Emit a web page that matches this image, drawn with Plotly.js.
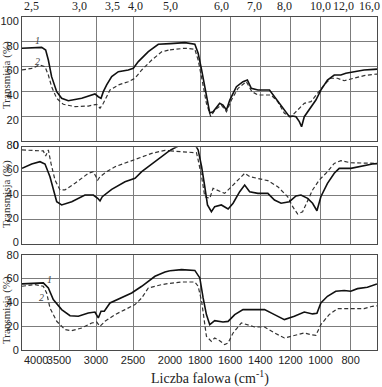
<!DOCTYPE html>
<html><head><meta charset="utf-8">
<script src="https://cdn.plot.ly/plotly-3.0.1.min.js"></script>
<style>html,body{margin:0;padding:0;background:#fff}#chart{width:382px;height:387px}</style>
</head><body><div id="chart"></div>
<script>
// ---- data (wavenumber cm-1, transmission %) ----
const p1SolidWn = [4000,3850,3734,3680,3644,3600,3531,3464,3374,3193,3014,2969,2932,2901,2856,2788,2698,2564,2496,2428,2293,2158,2068,2000,1901,1835,1813,1790,1758,1736,1714,1670,1648,1625,1603,1559,1515,1486,1460,1416,1339,1306,1251,1207,1185,1163,1141,1126,1108,1075,1031,998,954,909,865,832,777,711,645,625];
const p1SolidT  = [74.8,75.3,75.5,73.4,65.3,51.9,39.8,34.4,32.5,34.4,37.9,35.7,34.4,39.8,45.2,51.9,55.9,57.3,58.6,64,72,78,78.2,78.5,79.3,78,70.7,57.3,35.7,22.6,23.6,30.4,29,25,33,43.8,47.8,49.2,42.5,41.1,41.1,35.7,26.4,19.6,20.2,19.6,15.6,11.5,19.6,25,33,41.1,49.2,53.2,53.2,54.6,55.9,57.3,57.8,58];
const p1DashWn  = [4000,3869,3757,3689,3644,3600,3531,3442,3284,3104,2991,2946,2901,2811,2698,2564,2473,2382,2247,2112,2000,1901,1835,1813,1787,1758,1729,1703,1659,1625,1592,1548,1493,1456,1416,1329,1284,1240,1196,1152,1108,1064,1020,976,932,888,843,777,711,645,625];
const p1DashT   = [57.3,58.6,61.3,59.9,53.2,43.8,34.4,29.6,27.7,28.2,29.6,26.4,30.4,41.1,45.2,47.8,50.6,57.3,65.3,72,73.5,74.8,74,65.3,49.2,30.4,19.6,25,29,23.6,33,42.5,47.8,39.8,37.1,37.1,31.7,22.3,19.6,25,30.4,31.7,38.5,45.2,50.6,50.6,48.6,50.6,52.7,53.8,54];

const p2SolidWn = [4000,3869,3757,3689,3622,3577,3531,3464,3328,3149,3036,2977,2946,2915,2788,2608,2473,2382,2203,2068,2000,1945,1879,1835,1813,1790,1769,1751,1725,1703,1659,1614,1581,1537,1504,1471,1416,1350,1306,1262,1207,1163,1130,1086,1053,1024,998,954,909,876,799,733,656,625];
const p2SolidT  = [62.6,66.2,68.1,66.2,55.7,44.7,35,32.3,35,40.5,40.5,37.8,35.6,39.1,45.2,51.5,54.3,59.8,68.1,74,77.5,81,83.3,82.5,77.8,63.9,47.4,32.3,26.7,30.9,32.3,29,33.7,43.3,48.8,43.3,41.9,41.9,36.4,33.7,35,39.7,40.5,37.8,33.7,27.5,39.1,50.2,58.5,62.6,62.6,64.5,66.2,66.5];
const p2DashWn  = [4000,3824,3712,3680,3644,3608,3554,3486,3419,3284,3104,3036,2977,2946,2856,2743,2564,2428,2247,2068,2000,1900,1824,1813,1790,1769,1736,1714,1681,1637,1592,1537,1504,1471,1416,1350,1284,1218,1185,1152,1119,1086,1053,1009,954,909,865,799,711,656,625];
const p2DashT   = [77.8,77,77,72.8,77.8,66.7,52.9,44.7,44.7,50.2,58.5,59.8,52.9,55.7,59.8,63.9,68.1,70.9,75,77.5,77,76.3,75.5,69.5,55.7,39.1,37.8,46.1,44.1,41.9,47.4,54.3,58.5,55.7,54.3,52.4,47.4,39.1,30.9,24.8,26.7,36.4,44.7,52.9,59.8,66.7,68.9,67.2,66.7,66.7,66.7];

const p3SolidWn = [4000,3824,3712,3644,3577,3464,3351,3239,3104,3014,2969,2932,2888,2811,2653,2518,2382,2203,2068,2000,1923,1835,1802,1780,1758,1736,1703,1648,1614,1570,1515,1438,1372,1306,1240,1174,1108,1053,1024,998,954,899,843,799,755,689,645,625];
const p3SolidT  = [55.5,56.3,56.3,52.1,42.3,33.9,28.8,28.3,31.1,31.9,26.9,32.5,32.5,39.5,43.7,47.9,53.5,61.9,65.5,66.5,67.5,66.8,60.5,43.7,29.7,21.3,24.6,23.5,24,29.7,33.9,33.9,33.9,29.7,25.5,28.3,31.9,30.3,30.8,39.5,45.1,49.3,49.9,49.3,51.5,52.7,54.9,55.5];
const p3DashWn  = [4000,3824,3712,3667,3622,3531,3419,3328,3193,3058,2991,2946,2878,2743,2608,2473,2382,2293,2112,2000,1923,1835,1813,1790,1769,1758,1725,1703,1670,1637,1614,1581,1526,1493,1438,1372,1306,1240,1174,1108,1064,1031,998,943,888,799,711,656,625];
const p3DashT   = [53.5,54.9,53.5,47.9,35.3,24.1,17.1,16.2,18.5,22.7,23.5,19.9,24.1,29.7,33.9,38.1,43.7,52.1,54.9,56,57.1,57.1,53.5,40.9,24.1,11.5,7.3,10.1,7.8,4.5,5.9,14.3,22.7,21.3,19.3,19.3,14.3,10.1,12.3,14.3,12.9,12.3,21.3,29.7,34.7,34.7,34.7,36.7,37];

const wnTicksLeft  = [3500,3000,2500];
const wnTicksRight = [2000,1800,1600,1400,1200,1000,800];
const umLabels = ["2,5","3,0","3,5","4,0","5,0","6,0","7,0","8,0","10,0","12,0","16,0"];
const umValues = [2.5,3.0,3.5,4.0,5.0,6.0,7.0,8.0,10.0,12.0,16.0];
const yTitle = "Transmisja (%)";
const xTitle = "Liczba falowa (cm<sup>-1</sup>)";

// ---- layout geometry ----
const W = 382, H = 387;
const fx = px => px / W, fy = px => 1 - px / H;
const xDomL = [fx(22), fx(170)], xDomR = [fx(170), fx(377)];
const panels = [
  {yd:[fy(141), fy(17)], yr:[0,100], yt:[0,20,40,60,80,100], s:p1SolidWn, st:p1SolidT, d:p1DashWn, dt:p1DashT, shift:4, tc:75},
  {yd:[fy(244), fy(147.3)], yr:[0,80], yt:[0,20,40,60,80], s:p2SolidWn, st:p2SolidT, d:p2DashWn, dt:p2DashT, shift:-2, tc:194},
  {yd:[fy(350), fy(254.7)], yr:[0,80], yt:[0,20,40,60,80], s:p3SolidWn, st:p3SolidT, d:p3DashWn, dt:p3DashT, shift:0, tc:310}
];

const lineCol = '#111', gridCol = '#7c7c7c', frameCol = '#4a4a4a';
const sansF = {family:'Liberation Sans, Arial, sans-serif', size:11, color:'#222'};
const serifFam = 'Liberation Serif, Times New Roman, serif';

function part(wn, t, left){
  const x=[], y=[];
  for(let i=0;i<wn.length;i++){
    if((left && wn[i]>=2000) || (!left && wn[i]<=2000)){x.push(wn[i]); y.push(t[i]);}
  }
  return {x, y};
}

const traces = [];
const layout = {
  width: W, height: H, margin:{l:0,r:0,t:0,b:0},
  paper_bgcolor:'#fff', plot_bgcolor:'#fff', showlegend:false,
  annotations:[]
};

const xk = n => n===1 ? 'xaxis' : 'xaxis'+n;
const yk = n => n===1 ? 'yaxis' : 'yaxis'+n;
const xr = n => n===1 ? 'x' : 'x'+n;
const yrf = n => n===1 ? 'y' : 'y'+n;

panels.forEach((p, i) => {
  const nL = 2*i+1, nR = 2*i+2;
  const bottom = (i===2);
  const xCommon = {ticks:'', showgrid:true, gridcolor:gridCol, gridwidth:1, zeroline:false,
    showline:true, mirror:true, linecolor:frameCol, linewidth:1, tickfont:sansF, fixedrange:true, showticklabels:bottom};
  layout[xk(nL)] = Object.assign({domain:xDomL, range:[4000,2000], anchor:yrf(nL), tickvals:wnTicksLeft,
    ticktext:wnTicksLeft.map(String)}, xCommon);
  layout[xk(nR)] = Object.assign({domain:xDomR, range:[2000,625], anchor:yrf(nR), tickvals:wnTicksRight,
    ticktext:wnTicksRight.map(String)}, xCommon);
  layout[yk(nL)] = {domain:p.yd, range:p.yr, anchor:xr(nL), tickvals:p.yt, ticks:'', showticklabels:true,
    ticklabelshift:p.shift, showgrid:true, gridcolor:gridCol, zeroline:false, showline:true, mirror:false,
    linecolor:frameCol, linewidth:1, tickfont:sansF, fixedrange:true};
  layout[yk(nR)] = {domain:p.yd, range:p.yr, anchor:xr(nR), side:'right', tickvals:p.yt, ticks:'', showticklabels:false,
    showgrid:true, gridcolor:gridCol, zeroline:false, showline:true, mirror:false, linecolor:frameCol, linewidth:1, fixedrange:true};
  [[nL,true],[nR,false]].forEach(([n,left]) => {
    const s = part(p.s, p.st, left), d = part(p.d, p.dt, left);
    traces.push({type:'scatter', mode:'lines', x:d.x, y:d.y, xaxis:xr(n), yaxis:yrf(n),
      line:{color:'#333', width:1.2, dash:'4px,2.5px'}, hoverinfo:'skip'});
    traces.push({type:'scatter', mode:'lines', x:s.x, y:s.y, xaxis:xr(n), yaxis:yrf(n),
      line:{color:lineCol, width:1.6}, hoverinfo:'skip'});
  });
  layout.annotations.push({text:yTitle, xref:'paper', yref:'paper', x:fx(6), y:fy(p.tc),
    textangle:-90, showarrow:false, font:{family:serifFam, size:11, color:'#333'}, xanchor:'center', yanchor:'middle'});
});

// bottom "4000" label at the left edge
layout.annotations.push({text:'4000', xref:'x5', yref:'paper', x:4000, y:fy(352), xanchor:'left', yanchor:'top',
  showarrow:false, font:sansF});
// x title
layout.annotations.push({text:xTitle, xref:'paper', yref:'paper', x:fx(210), y:fy(377), xanchor:'center', yanchor:'middle',
  showarrow:false, font:{family:serifFam, size:14, color:'#222'}});
// top micrometre scale (printed labels sit slightly right of their true positions in the source)
const umShift = [0,8,6,2,0,1,-2,2,0,-2,0];
umValues.forEach((um, k) => {
  const wn = 10000/um;
  const last = k===umValues.length-1;
  layout.annotations.push({text:umLabels[k], xref: last ? 'paper' : (wn>=2000 ? 'x' : 'x2'), yref:'paper',
    x: last ? 1 : wn, y:fy(6), xshift:umShift[k],
    xanchor: k===0 ? 'left' : (last ? 'right' : 'center'), yanchor:'middle', showarrow:false,
    font:{family:serifFam, size:12, color:'#222'}});
});
// curve labels
const curveLabels = [
  {t:'1', xr:'x', yr:'y', x:3797, y:81}, {t:'2', xr:'x', yr:'y', x:3797, y:64},
  {t:'1', xr:'x5', yr:'y5', x:3622, y:59}, {t:'2', xr:'x5', yr:'y5', x:3740, y:44}
];
curveLabels.forEach(c => layout.annotations.push({text:'<i>'+c.t+'</i>', xref:c.xr, yref:c.yr, x:c.x, y:c.y, showarrow:false,
  font:{family:serifFam, size:10, color:'#444'}, xanchor:'center', yanchor:'middle'}));

Plotly.newPlot('chart', traces, layout, {staticPlot:true, displayModeBar:false});
</script></body></html>
